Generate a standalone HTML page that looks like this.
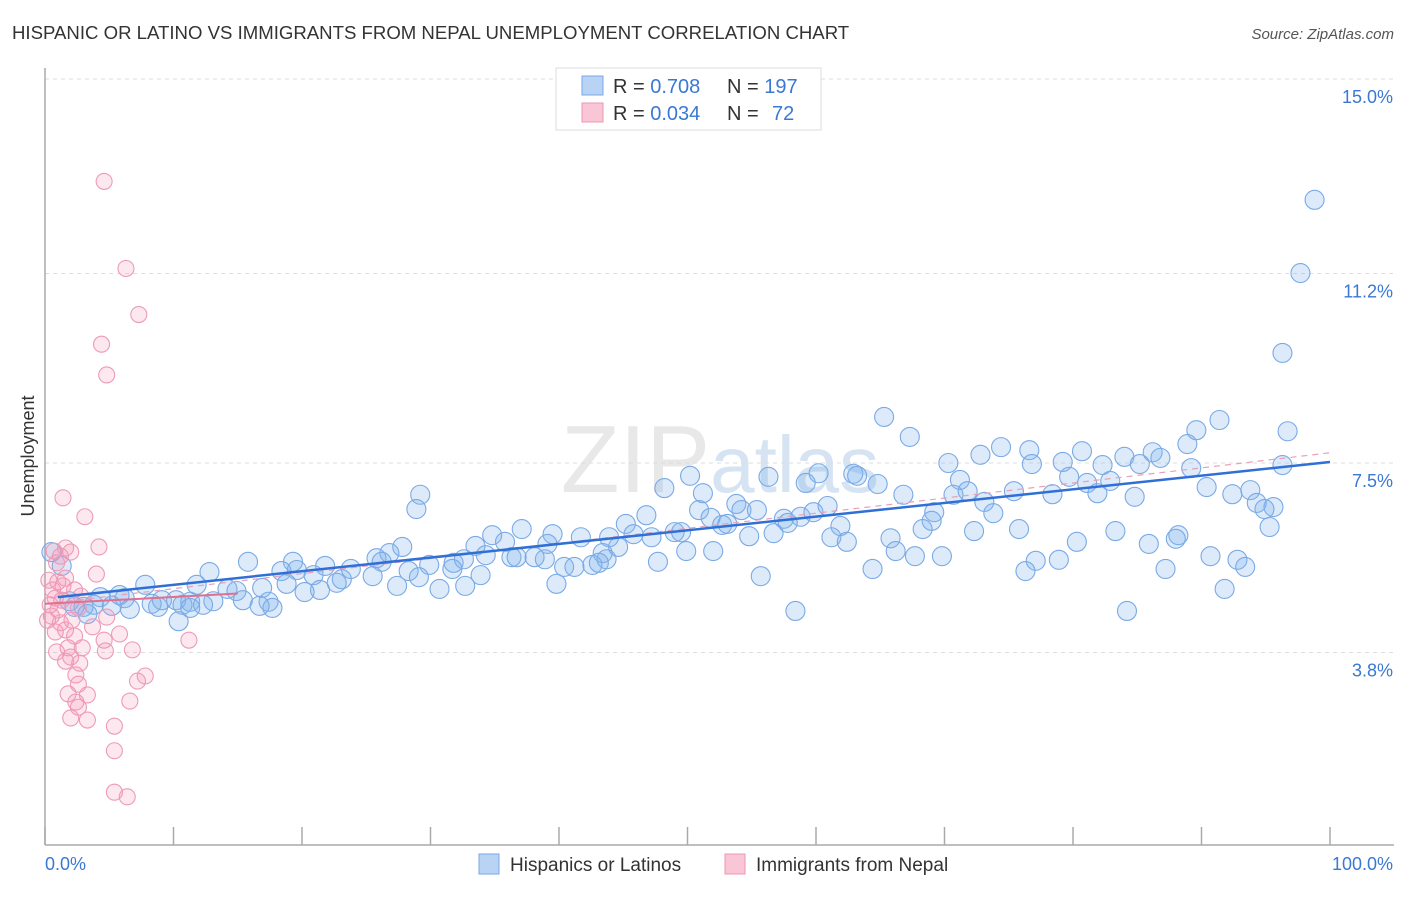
<!DOCTYPE html>
<html><head><meta charset="utf-8"><style>
body{margin:0;background:#fff;font-family:"Liberation Sans",sans-serif}
svg text{font-family:"Liberation Sans",sans-serif}
</style></head><body>
<svg id="c" width="1406" height="892" xmlns="http://www.w3.org/2000/svg">
<text x="12" y="39" font-size="18.6" fill="#333">HISPANIC OR LATINO VS IMMIGRANTS FROM NEPAL UNEMPLOYMENT CORRELATION CHART</text>
<text x="1394" y="39" font-size="15" fill="#555" font-style="italic" text-anchor="end">Source: ZipAtlas.com</text>
<text x="720" y="492" font-size="96" fill="#e8e8e8" text-anchor="middle" font-family="Liberation Serif">ZIP<tspan fill="#d5e3f2" font-family="Liberation Sans" font-size="80">atlas</tspan></text>
<text transform="translate(34,456) rotate(-90)" font-size="18" fill="#333" text-anchor="middle">Unemployment</text>
<g id="grid"></g><g id="pts"></g><g id="lines"></g>
<g>
<rect x="556" y="68" width="265" height="62" fill="#fff" stroke="#ddd"/>
<rect x="582" y="76" width="21" height="19" fill="#b9d3f5" stroke="#79a8e6"/>
<rect x="582" y="103" width="21" height="19" fill="#f9c6d6" stroke="#ec95b2"/>
<text x="613" y="93" font-size="20" fill="#333">R = <tspan fill="#3a78d4">0.708</tspan><tspan x="727">N = </tspan><tspan fill="#3a78d4">197</tspan></text>
<text x="613" y="120" font-size="20" fill="#333">R = <tspan fill="#3a78d4">0.034</tspan><tspan x="727">N = </tspan><tspan fill="#3a78d4" x="772">72</tspan></text>
</g>
<g>
<rect x="479" y="854" width="20" height="20" fill="#b9d3f5" stroke="#79a8e6"/>
<text x="510" y="871" font-size="19" fill="#333">Hispanics or Latinos</text>
<rect x="725" y="854" width="20" height="20" fill="#f9c6d6" stroke="#ec95b2"/>
<text x="756" y="871" font-size="19" fill="#333">Immigrants from Nepal</text>
</g>
</svg>
<script>
const yTicks=[15.0,11.2,7.5,3.8];
const yTickLabels=["15.0%","11.2%","7.5%","3.8%"];
const xTickCount=10;
const blueX=[98.8,97.7,96.3,65.3,67.3,91.4,96.7,89.6,88.9,74.4,76.6,84.0,86.2,86.8,80.7,70.3,72.8,76.8,79.2,82.3,85.2,89.2,96.3,56.3,60.2,62.9,63.2,50.2,59.2,64.8,71.2,79.7,81.1,82.9,48.2,51.2,66.8,70.7,71.8,75.4,78.4,81.9,84.8,90.4,92.4,93.8,29.2,28.9,73.1,94.3,95.6,94.9,53.8,50.9,51.8,52.7,54.2,55.4,53.1,57.5,58.8,59.8,60.9,73.8,69.2,69.0,45.2,46.8,45.8,43.9,34.8,37.1,35.8,33.5,34.3,39.5,41.7,47.2,49.0,49.5,52.0,54.8,56.7,57.8,61.9,61.2,62.4,65.8,68.3,72.3,75.8,80.3,83.3,85.9,88.2,88.0,95.3,27.8,26.8,25.8,26.2,29.9,31.8,32.6,31.7,33.9,36.3,36.7,38.9,38.1,39.1,43.4,43.7,44.6,49.9,47.7,40.4,41.2,42.6,43.1,64.4,66.2,67.7,69.8,77.1,78.9,76.3,87.2,90.7,92.8,93.4,91.8,55.7,39.8,30.7,32.7,58.4,84.2,15.8,12.8,19.3,18.4,21.8,19.6,23.8,20.9,23.1,25.5,28.3,29.1,22.7,18.8,16.9,21.4,20.2,27.4,11.8,14.2,14.9,7.8,5.8,4.3,6.2,9.1,10.2,11.3,13.1,15.4,17.4,17.7,16.7,8.3,6.6,5.2,3.8,3.0,2.3,3.3,8.8,10.7,12.3,10.4,1.9,1.3,0.5,11.3];
const blueY=[12.64,11.21,9.65,8.40,8.01,8.34,8.12,8.14,7.87,7.81,7.75,7.62,7.71,7.60,7.73,7.50,7.66,7.48,7.52,7.46,7.48,7.40,7.46,7.23,7.30,7.29,7.25,7.25,7.11,7.09,7.17,7.23,7.11,7.15,7.01,6.91,6.88,6.88,6.95,6.95,6.89,6.91,6.84,7.03,6.89,6.97,6.88,6.60,6.74,6.72,6.64,6.60,6.70,6.58,6.43,6.29,6.58,6.58,6.31,6.41,6.45,6.54,6.66,6.52,6.54,6.37,6.31,6.48,6.11,6.05,6.09,6.21,5.96,5.88,5.70,6.11,6.05,6.05,6.15,6.15,5.78,6.07,6.13,6.33,6.27,6.05,5.96,6.03,6.21,6.17,6.21,5.96,6.17,5.92,6.09,6.02,6.25,5.86,5.74,5.64,5.57,5.51,5.55,5.62,5.43,5.31,5.66,5.66,5.62,5.66,5.92,5.74,5.62,5.86,5.78,5.57,5.47,5.47,5.51,5.55,5.43,5.78,5.68,5.68,5.59,5.61,5.39,5.43,5.68,5.61,5.47,5.04,5.29,5.14,5.04,5.10,4.61,4.61,5.57,5.37,5.57,5.39,5.49,5.41,5.43,5.31,5.23,5.29,5.39,5.27,5.16,5.14,5.06,5.02,4.98,5.10,5.12,5.04,5.00,5.12,4.92,4.88,4.86,4.82,4.82,4.79,4.80,4.82,4.79,4.67,4.71,4.75,4.65,4.71,4.73,4.69,4.69,4.55,4.69,4.73,4.73,4.41,4.80,5.49,5.76,4.67];
const pinkX=[4.6,6.3,7.3,4.4,4.8,1.4,3.1,4.2,1.6,2.0,1.2,0.9,4.0,1.6,1.0,1.4,0.6,0.8,2.8,0.4,1.0,0.5,1.2,2.1,1.6,0.8,2.3,3.7,4.8,5.8,4.6,11.2,2.9,1.8,0.9,2.0,2.7,1.6,4.7,6.8,7.8,7.2,2.4,2.6,1.8,3.3,2.4,2.6,6.6,2.0,3.3,5.4,5.4,5.4,6.4,0.7,0.3,0.2,2.3,2.6,1.3];
const pinkY=[13.0,11.3,10.4,9.82,9.22,6.82,6.45,5.86,5.84,5.76,5.68,5.55,5.33,5.25,5.18,5.10,5.02,4.86,4.90,4.73,4.63,4.51,4.38,4.43,4.24,4.20,4.12,4.30,4.49,4.16,4.04,4.04,3.89,3.89,3.81,3.71,3.59,3.63,3.83,3.85,3.34,3.24,3.36,3.18,2.99,2.97,2.83,2.73,2.85,2.52,2.48,2.36,1.88,1.07,0.98,5.78,5.21,4.43,5.02,4.67,4.82];
const blueTrendX=[1,100], blueTrendY=[4.88,7.52];
const pinkTrendX=[0,100], pinkTrendY=[4.75,7.70];
const pinkSolidX=[0,15], pinkSolidY=[4.75,4.95];

const X0=45,X1=1330,Y0=847,PX=(X1-X0)/100,PY=51.2;
const sx=v=>X0+v*PX, sy=v=>Y0-v*PY;
const NS="http://www.w3.org/2000/svg";
function mk(tag,attrs,parent){const e=document.createElementNS(NS,tag);for(const k in attrs)e.setAttribute(k,attrs[k]);parent.appendChild(e);return e;}
const grid=document.getElementById('grid'),pts=document.getElementById('pts'),lines=document.getElementById('lines');
yTicks.forEach((t,i)=>{
  const l=mk('line',{x1:X0,x2:1394,y1:sy(t),y2:sy(t),stroke:'#ddd','stroke-dasharray':'4,4'},grid);
  
  
  const tx=mk('text',{x:1393,y:sy(t)+24,'font-size':18,fill:'#3a78d4','text-anchor':'end'},grid);
  tx.textContent=yTickLabels[i];
  
  
});
let ax=mk('line',{x1:X0,x2:X0,y1:68,y2:845,stroke:'#aaa','stroke-width':1.5},grid);


ax=mk('line',{x1:X0,x2:1394,y1:845,y2:845,stroke:'#aaa','stroke-width':1.5},grid);


for(let i=0;i<=xTickCount;i++){
  const x=sx(i*100/xTickCount);
  const t=mk('line',{x1:x,x2:x,y1:827,y2:845,stroke:'#aaa','stroke-width':1.5},grid);
  
  
}
let xl=mk('text',{x:45,y:870,'font-size':18,fill:'#3a78d4'},grid);xl.textContent='0.0%';


xl=mk('text',{x:1393,y:870,'font-size':18,fill:'#3a78d4','text-anchor':'end'},grid);xl.textContent='100.0%';


blueX.forEach((v,i)=>{
  const c=mk('circle',{cx:sx(v),cy:sy(blueY[i]),r:9.5,fill:'rgba(130,178,238,0.28)',stroke:'#7aaae6','stroke-width':1.1},pts);
  
  
});
pinkX.forEach((v,i)=>{
  const c=mk('circle',{cx:sx(v),cy:sy(pinkY[i]),r:8,fill:'rgba(245,150,180,0.22)',stroke:'#ee9ab6','stroke-width':1.1},pts);
  
  
});
let l=mk('line',{x1:sx(pinkTrendX[0]),y1:sy(pinkTrendY[0]),x2:sx(pinkTrendX[1]),y2:sy(pinkTrendY[1]),stroke:'#e8a0b8','stroke-width':1.2,'stroke-dasharray':'6,5'},lines);


l=mk('line',{x1:sx(pinkSolidX[0]),y1:sy(pinkSolidY[0]),x2:sx(pinkSolidX[1]),y2:sy(pinkSolidY[1]),stroke:'#e0708f','stroke-width':2},lines);


l=mk('line',{x1:sx(blueTrendX[0]),y1:sy(blueTrendY[0]),x2:sx(blueTrendX[1]),y2:sy(blueTrendY[1]),stroke:'#2f6fd6','stroke-width':2.5},lines);


</script>
</body></html>
